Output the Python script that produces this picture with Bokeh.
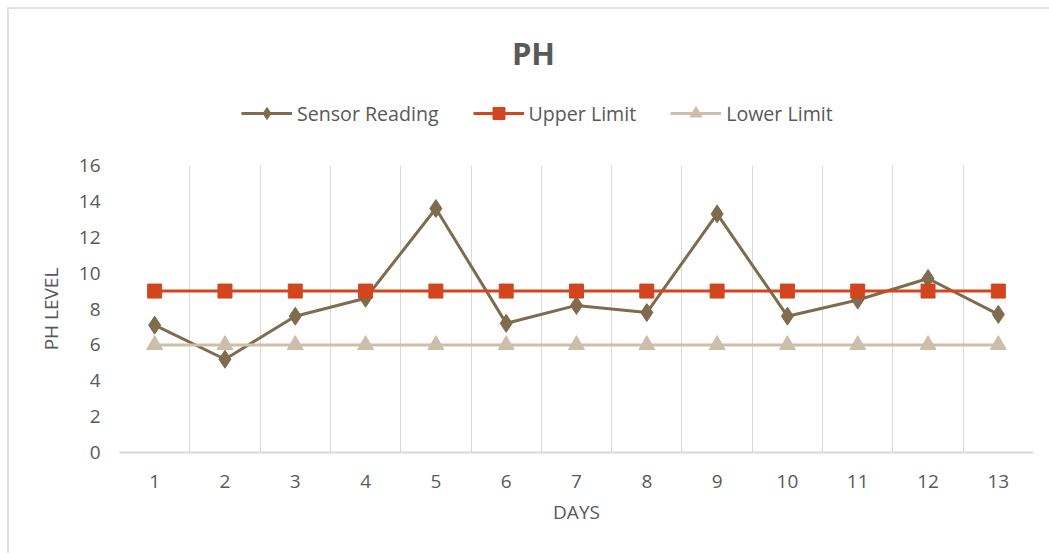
from bokeh.plotting import figure
from bokeh.layouts import column
from bokeh.models import (ColumnDataSource, FixedTicker, Legend, LegendItem, Label, Range1d)
from bokeh.embed import file_html
from bokeh.resources import INLINE

days = list(range(1, 14))
sensor_reading = [7.1, 5.2, 7.6, 8.6, 13.6, 7.2, 8.2, 7.8, 13.3, 7.6, 8.5, 9.7, 7.7]
upper_limit = [9] * 13
lower_limit = [6] * 13
y_ticks = [0, 2, 4, 6, 8, 10, 12, 14, 16]
series_names = ["Sensor Reading", "Upper Limit", "Lower Limit"]
chart_title = "PH"

FONT = "Open Sans"
TXT = "#595959"
C_SENSOR = "#7f6b4d"
C_UPPER = "#d2461f"
C_LOWER = "#cbbfa9"
FS = "19px"

W = 1040
HEAD_H = 142
MAIN_H = 402

src = ColumnDataSource(dict(day=days, sensor=sensor_reading, upper=upper_limit, lower=lower_limit))

# ---------------- main chart ----------------
p = figure(width=W, height=MAIN_H, output_backend="svg", toolbar_location=None,
           x_range=Range1d(0.5, 13.5), y_range=Range1d(0, 16),
           min_border_left=110, min_border_right=16, min_border_top=14, min_border_bottom=101)
p.outline_line_color = None
p.background_fill_color = "white"
p.border_fill_color = "white"

p.ygrid.grid_line_color = None
p.xgrid.ticker = FixedTicker(ticks=[d - 0.5 for d in days] + [days[-1] + 0.5])
p.xgrid.grid_line_color = "#d9d9d9"
p.xgrid.grid_line_width = 1

p.xaxis.ticker = FixedTicker(ticks=days)
p.yaxis.ticker = FixedTicker(ticks=y_ticks)
for ax in (p.xaxis[0], p.yaxis[0]):
    ax.major_tick_line_color = None
    ax.minor_tick_line_color = None
    ax.major_label_text_font = FONT
    ax.major_label_text_font_size = FS
    ax.major_label_text_color = TXT
    ax.axis_label_text_font = FONT
    ax.axis_label_text_font_size = FS
    ax.axis_label_text_color = TXT
    ax.axis_label_text_font_style = "normal"
p.xaxis.axis_line_color = "#d9d9d9"
p.xaxis.axis_line_width = 2
p.yaxis.axis_line_color = None
p.xaxis.axis_label = "DAYS"
p.yaxis.axis_label = "PH LEVEL"
p.xaxis.major_label_standoff = 16
p.yaxis.major_label_standoff = 13
p.xaxis.axis_label_standoff = 8
p.yaxis.axis_label_standoff = 12

for key, col, mk, sz in zip(["sensor", "upper", "lower"], [C_SENSOR, C_UPPER, C_LOWER],
                            ["diamond", "square", "triangle"], [18, 14, 16]):
    p.line("day", key, source=src, line_color=col, line_width=3)
    p.scatter("day", key, source=src, marker=mk, size=sz, fill_color=col, line_color=col)

# ---------------- header: title + legend ----------------
# header frame is aligned with the main frame (page x 119..1033)
h = figure(width=W, height=HEAD_H, output_backend="svg", toolbar_location=None,
           x_range=Range1d(119, 1033), y_range=Range1d(0, HEAD_H),
           x_axis_type=None, y_axis_type=None, min_border=0,
           min_border_left=110, min_border_right=16)
h.outline_line_color = None
h.background_fill_color = "white"
h.border_fill_color = "white"
h.xgrid.visible = False
h.ygrid.visible = False

items = []
for name, key, col, mk, sz in zip(series_names, ["sensor", "upper", "lower"],
                                  [C_SENSOR, C_UPPER, C_LOWER],
                                  ["diamond", "square", "triangle"], [18, 14, 16]):
    rl = h.line("day", key, source=src, line_color=col, line_width=3, visible=False)
    rm = h.scatter("day", key, source=src, marker=mk, size=sz, fill_color=col,
                   line_color=col, visible=False)
    items.append(LegendItem(label=name, renderers=[rl, rm]))

legend = Legend(items=items, orientation="horizontal", location=(122, 23),
                border_line_color=None, background_fill_alpha=0,
                inactive_fill_alpha=0,
                label_text_font=FONT, label_text_font_size="19.6px", label_text_color=TXT,
                glyph_width=51, glyph_height=30, label_height=30, spacing=34,
                label_standoff=5, padding=0, margin=0)
h.add_layout(legend, "center")

title = Label(x=533, y=HEAD_H - 43, text=chart_title, text_font=FONT, text_font_size="31px",
              text_font_style="bold", text_color=TXT, text_align="center", text_baseline="middle")
h.add_layout(title)

layout = column(h, p, spacing=0)
layout.styles = {"margin-left": "7px", "margin-top": "7px",
                 "border-left": "2px solid #e2e2e2", "border-top": "2px solid #e2e2e2"}

open("out.html", "w").write(file_html(layout, INLINE))
